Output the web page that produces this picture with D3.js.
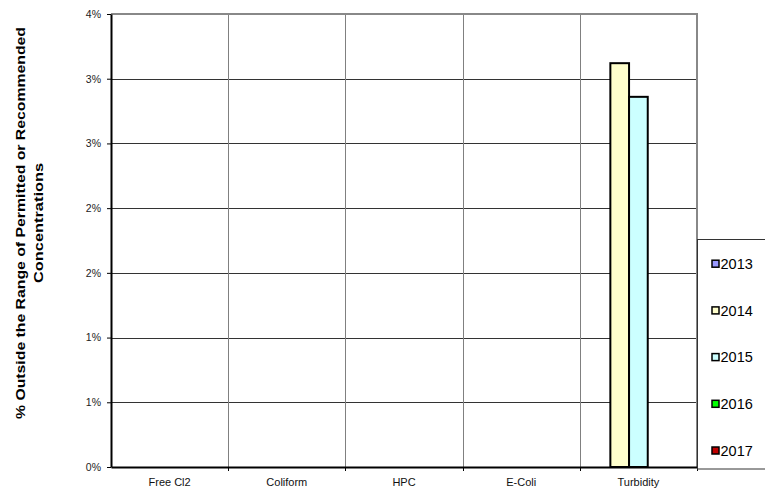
<!DOCTYPE html>
<html>
<head>
<meta charset="utf-8">
<script src="https://cdn.jsdelivr.net/npm/d3@7"></script>
<style>
  html, body { margin: 0; padding: 0; background: #fff; }
  svg { display: block; font-family: "Liberation Sans", Arial, sans-serif; }
</style>
</head>
<body>
<svg id="chart" width="765" height="494"></svg>
<script>
const categories = ["Free Cl2", "Coliform", "HPC", "E-Coli", "Turbidity"];
const seriesNames = ["2013", "2014", "2015", "2016", "2017"];
const seriesColors = ["#9999FF", "#FFFFCC", "#CCFFFF", "#00FF00", "#C00000"];
const values2013 = [0, 0, 0, 0, 0];
const values2014 = [0, 0, 0, 0, 0.0312];
const values2015 = [0, 0, 0, 0, 0.0286];
const values2016 = [0, 0, 0, 0, 0];
const values2017 = [0, 0, 0, 0, 0];
const tickValues = [0, 0.005, 0.01, 0.015, 0.02, 0.025, 0.03, 0.035];
const tickLabels = ["0%", "1%", "1%", "2%", "2%", "3%", "3%", "4%"];
const yTitle1 = "% Outside the Range of Permitted or Recommended";
const yTitle2 = "Concentrations";

const allValues = [values2013, values2014, values2015, values2016, values2017];

const svg = d3.select("#chart");
const L = 111, R = 697, T = 14, B = 467;

const x = d3.scaleBand().domain(categories).range([L, R]).paddingInner(0).paddingOuter(0);
const xs = d3.scaleBand().domain(seriesNames).range([0, x.bandwidth()]).paddingInner(0).paddingOuter(0.634);
const y = d3.scaleLinear().domain([0, 0.035]).range([B, T]);

// horizontal gridlines
svg.append("g").selectAll("line").data(tickValues.slice(1)).join("line")
  .attr("x1", L).attr("x2", R)
  .attr("y1", d => Math.round(y(d)) + 0.5).attr("y2", d => Math.round(y(d)) + 0.5)
  .attr("stroke", "#333").attr("stroke-width", 1);

// vertical category separators
svg.append("g").selectAll("line").data(categories.slice(1)).join("line")
  .attr("x1", d => Math.round(x(d)) + 0.5).attr("x2", d => Math.round(x(d)) + 0.5)
  .attr("y1", T).attr("y2", B)
  .attr("stroke", "#808080").attr("stroke-width", 1);

// plot border top & right (grey)
svg.append("path")
  .attr("d", `M${L},${T} H${R} V${B}`)
  .attr("fill", "none").attr("stroke", "#888").attr("stroke-width", 2);

// bars
const barData = [];
seriesNames.forEach((s, si) => {
  categories.forEach((c, ci) => {
    const v = allValues[si][ci];
    if (v > 0) barData.push({ s, c, v, color: seriesColors[si] });
  });
});
svg.append("g").selectAll("rect").data(barData).join("rect")
  .attr("x", d => x(d.c) + xs(d.s))
  .attr("y", d => y(d.v))
  .attr("width", xs.bandwidth())
  .attr("height", d => y(0) - y(d.v))
  .attr("fill", d => d.color)
  .attr("stroke", "#000").attr("stroke-width", 2);

// y axis
const yAxis = d3.axisLeft(y).tickValues(tickValues)
  .tickFormat((d, i) => tickLabels[i]).tickSize(4).tickSizeOuter(0);
const gy = svg.append("g").attr("transform", `translate(${L},0)`).call(yAxis);
gy.select(".domain").attr("stroke", "#000").attr("stroke-width", 2);
gy.selectAll(".tick line").attr("stroke", "#000");
gy.selectAll(".tick text").attr("font-size", "10.5px").attr("fill", "#222")
  .attr("font-family", "Liberation Sans, Arial, sans-serif").attr("x", -10);

// x axis
const xAxis = d3.axisBottom(x).tickSize(0).tickSizeOuter(0);
const gx = svg.append("g").attr("transform", `translate(0,${B})`).call(xAxis);
gx.select(".domain").attr("stroke", "#000").attr("stroke-width", 2);
gx.selectAll(".tick text").attr("font-size", "11px").attr("fill", "#111")
  .attr("font-family", "Liberation Sans, Arial, sans-serif").attr("dy", "0").attr("y", 19);
// boundary ticks
svg.append("g").selectAll("line").data(categories.slice(1).map(c => x(c)).concat([R])).join("line")
  .attr("x1", d => Math.round(d) + 0.5).attr("x2", d => Math.round(d) + 0.5)
  .attr("y1", B).attr("y2", B + 4)
  .attr("stroke", "#000").attr("stroke-width", 1);

// y title
svg.append("text")
  .attr("transform", "translate(25,223) rotate(-90)")
  .attr("text-anchor", "middle")
  .attr("font-size", "13px").attr("font-weight", "bold").attr("fill", "#000")
  .attr("textLength", 392).attr("lengthAdjust", "spacingAndGlyphs")
  .text(yTitle1);
svg.append("text")
  .attr("transform", "translate(43,223) rotate(-90)")
  .attr("text-anchor", "middle")
  .attr("font-size", "13px").attr("font-weight", "bold").attr("fill", "#000")
  .attr("textLength", 120).attr("lengthAdjust", "spacingAndGlyphs")
  .text(yTitle2);

// legend
const lg = svg.append("g");
lg.append("rect").attr("x", 697.5).attr("y", 239.5).attr("width", 80).attr("height", 229.5)
  .attr("fill", "#fff").attr("stroke", "#333").attr("stroke-width", 1);
const ly = d3.scalePoint().domain(seriesNames).range([263.7, 450.5]);
const items = lg.selectAll("g.item").data(seriesNames).join("g").attr("class", "item")
  .attr("transform", d => `translate(0,${ly(d)})`);
items.append("rect").attr("x", 712).attr("y", -3.5).attr("width", 7).attr("height", 7)
  .attr("fill", (d, i) => seriesColors[i]).attr("stroke", "#000").attr("stroke-width", 1.5);
items.append("text").attr("x", 720.5).attr("y", 5.3)
  .attr("font-size", "14.5px").attr("fill", "#000").text(d => d);
</script>
</body>
</html>
